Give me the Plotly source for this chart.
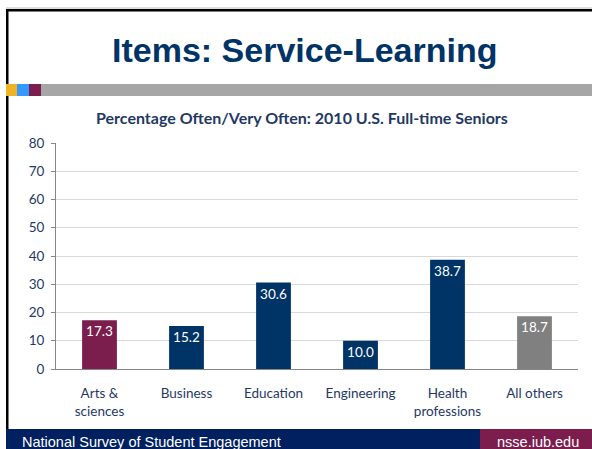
import plotly.graph_objects as go

categories = ["Arts &<br>sciences", "Business", "Education", "Engineering", "Health<br>professions", "All others"]
values = [17.3, 15.2, 30.6, 10.0, 38.7, 18.7]
bar_colors = ["#7B1E4E", "#003366", "#003366", "#003366", "#003366", "#808080"]
y_ticks = [0, 10, 20, 30, 40, 50, 60, 70, 80]

W, H = 592, 449
L, R, T, B = 56, 14, 143, 80
PW, PH = W - L - R, H - T - B


def px(x):
    return (x - L) / PW


def py(y):
    return (H - B - y) / PH


def box(x0, y0, x1, y1, color):
    # filled rectangle given in slide pixels
    return dict(type="rect", xref="paper", yref="paper", layer="above",
                x0=px(x0), x1=px(x1), y0=py(y0), y1=py(y1),
                fillcolor=color, line=dict(width=0))


fig = go.Figure()

fig.add_trace(
    go.Bar(
        x=categories,
        y=values,
        marker=dict(color=bar_colors, line=dict(width=0)),
        text=[f"{v:.1f}" for v in values],
        textposition="inside",
        insidetextanchor="end",
        textfont=dict(color="white", size=13.5, family="Lato, sans-serif"),
        width=0.4,
        cliponaxis=False,
    )
)

shapes = [
    # keep the right edge clean
    box(583, 12, 592, 84, "white"),
    box(583, 96, 592, 429, "white"),
    # slide frame
    box(6, 7.5, 592, 8.5, "#BBBBBB"),
    box(6, 9, 592, 11.5, "black"),
    box(6, 9, 8.5, 449, "black"),
    # colour strip
    box(6, 84, 17, 96, "#F0B323"),
    box(17, 84, 29, 96, "#3399FF"),
    box(29, 84, 41, 96, "#7B1E4E"),
    box(41, 84, 592, 96, "#A6A6A6"),
    # footer
    box(6, 429, 480, 449, "#002060"),
    box(480, 429, 592, 449, "#7B1E4E"),
]

annotations = [
    dict(text="<b>Items: Service-Learning</b>", x=px(304), y=py(50), xanchor="center", yanchor="middle",
         font=dict(family="Arial, Liberation Sans", size=34, color="#003366")),
    dict(text="<b>Percentage Often/Very Often: 2010 U.S. Full-time Seniors</b>", x=px(302), y=py(118),
         xanchor="center", yanchor="middle", font=dict(family="Lato, sans-serif", size=16, color="#1F3864")),
    dict(text="National Survey of Student Engagement", x=px(20), y=py(442), xanchor="left", yanchor="middle",
         font=dict(family="Arial, Liberation Sans", size=14.5, color="white")),
    dict(text="nsse.iub.edu", x=px(581), y=py(442), xanchor="right", yanchor="middle",
         font=dict(family="Arial, Liberation Sans", size=14.5, color="white")),
]
for a in annotations:
    a.update(xref="paper", yref="paper", showarrow=False)

fig.update_layout(
    width=W,
    height=H,
    margin=dict(l=L, r=R, t=T, b=B, pad=0),
    paper_bgcolor="white",
    plot_bgcolor="white",
    showlegend=False,
    bargap=0.6,
    shapes=shapes,
    annotations=annotations,
    font=dict(family="Lato, sans-serif", size=13.5, color="#1F3864"),
    xaxis=dict(
        showline=True,
        linecolor="#868686",
        linewidth=1,
        ticks="outside",
        ticklen=12,
        tickcolor="rgba(0,0,0,0)",
        tickfont=dict(size=13.5, color="#1F3864"),
        showgrid=False,
        fixedrange=True,
    ),
    yaxis=dict(
        range=[0, 80],
        tickvals=y_ticks,
        showline=True,
        linecolor="#868686",
        linewidth=1,
        ticks="outside",
        ticklen=4,
        tickcolor="#868686",
        ticklabelstandoff=4,
        gridcolor="#D9D9D9",
        gridwidth=1,
        zeroline=False,
        tickfont=dict(size=13.5, color="#1F3864"),
        fixedrange=True,
    ),
)

fig.write_html(
    "out.html",
    config={"displayModeBar": False},
    post_script=(
        "document.body.style.margin='0';"
        "document.body.style.overflow='hidden';"
        "document.documentElement.style.overflow='hidden';"
    ),
)
